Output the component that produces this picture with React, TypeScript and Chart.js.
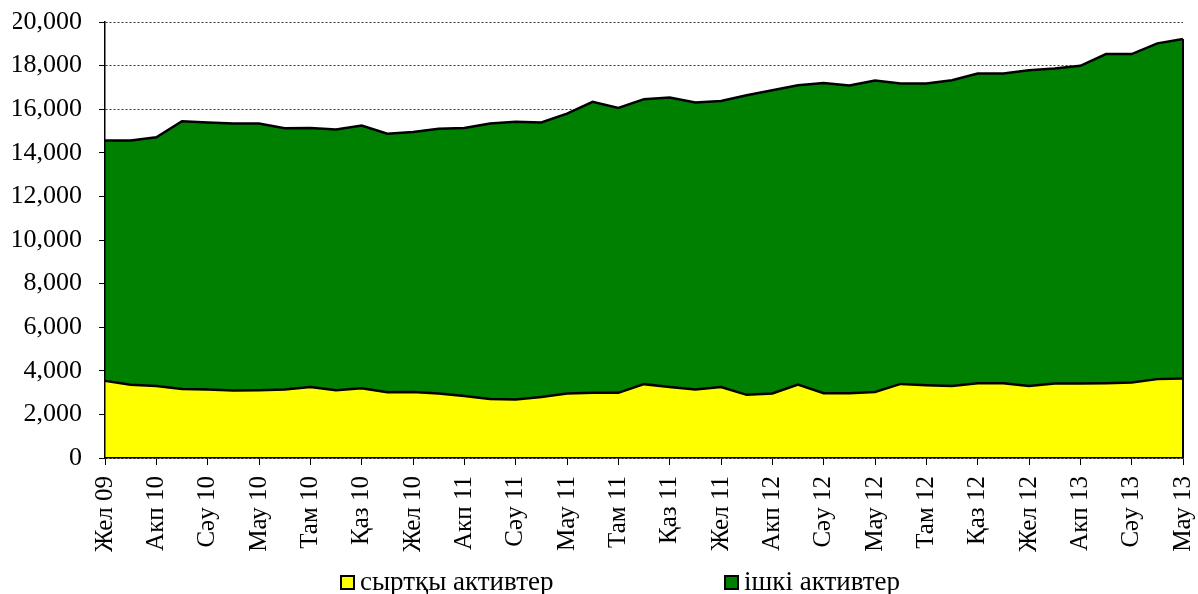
import React, { useEffect, useRef } from "react";
import { Chart, registerables } from "chart.js";

Chart.register(...registerables);

const months: string[] = [
  "Жел 09", "Қаң 10", "Акп 10", "Нау 10", "Сәу 10", "Мам 10", "Мау 10", "Шіл 10", "Там 10", "Қыр 10", "Қаз 10", "Қар 10",
  "Жел 10", "Қаң 11", "Акп 11", "Нау 11", "Сәу 11", "Мам 11", "Мау 11", "Шіл 11", "Там 11", "Қыр 11", "Қаз 11", "Қар 11",
  "Жел 11", "Қаң 12", "Акп 12", "Нау 12", "Сәу 12", "Мам 12", "Мау 12", "Шіл 12", "Там 12", "Қыр 12", "Қаз 12", "Қар 12",
  "Жел 12", "Қаң 13", "Акп 13", "Нау 13", "Сәу 13", "Мам 13", "Мау 13",
];

const externalAssets: number[] = [
  3540, 3360, 3300, 3170, 3140, 3100, 3110, 3140, 3260, 3110, 3200, 3020,
  3030, 2960, 2850, 2710, 2680, 2800, 2960, 2990, 2990, 3390, 3260, 3140,
  3260, 2900, 2960, 3370, 2970, 2970, 3030, 3400, 3340, 3300, 3430, 3430,
  3300, 3420, 3420, 3430, 3460, 3620, 3650,
];

const internalAssets: number[] = [
  11020, 11200, 11410, 12280, 12250, 12240, 12230, 11990, 11880, 11960, 12050, 11860,
  11930, 12140, 12290, 12630, 12740, 12590, 12840, 13350, 13070, 13070, 13280, 13170,
  13120, 13740, 13910, 13730, 14230, 14120, 14290, 13780, 13840, 14030, 14210, 14210,
  14490, 14450, 14570, 15100, 15070, 15400, 15570,
];

const seriesNames: string[] = ["сыртқы активтер", "ішкі активтер"];
const seriesColors: string[] = ["#FFFF00", "#008000"];

const FONT = "'Liberation Serif', 'Times New Roman', serif";

const rightEdgePlugin = {
  id: "rightEdge",
  afterDatasetsDraw(chart: any) {
    const meta = chart.getDatasetMeta(1);
    if (!meta || !meta.data.length) return;
    const last = meta.data[meta.data.length - 1];
    const y0 = chart.scales.y.getPixelForValue(0);
    const ctx = chart.ctx;
    ctx.save();
    ctx.strokeStyle = "#000";
    ctx.lineWidth = 2;
    ctx.beginPath();
    ctx.moveTo(last.x, last.y);
    ctx.lineTo(last.x, y0);
    ctx.stroke();
    ctx.restore();
  },
};

export default function App() {
  const ref = useRef<HTMLCanvasElement | null>(null);

  useEffect(() => {
    if (!ref.current) return;
    const chart = new Chart(ref.current, {
      type: "line",
      data: {
        labels: months,
        datasets: [
          {
            label: seriesNames[0],
            data: externalAssets,
            backgroundColor: seriesColors[0],
            borderColor: "#000",
            borderWidth: 2.5,
            fill: "origin",
            pointRadius: 0,
            tension: 0,
          },
          {
            label: seriesNames[1],
            data: internalAssets,
            backgroundColor: seriesColors[1],
            borderColor: "#000",
            borderWidth: 2.5,
            fill: "-1",
            pointRadius: 0,
            tension: 0,
          },
        ],
      },
      options: {
        animation: false,
        responsive: true,
        maintainAspectRatio: false,
        layout: { padding: { left: 13, right: 15, top: 22, bottom: 31 } },
        plugins: {
          legend: { display: false },
          tooltip: { enabled: false },
        },
        scales: {
          x: {
            type: "category",
            offset: false,
            afterFit: (scale: any) => {
              scale.paddingLeft = 0;
              scale.paddingRight = 0;
            },
            grid: {
              drawOnChartArea: false,
              drawTicks: true,
              tickLength: 7,
              tickWidth: 1,
              tickColor: (ctx: any) => (ctx.index % 2 === 0 ? "#000" : "rgba(0,0,0,0)"),
            },
            border: { display: true, color: "#000", width: 1.5, z: 1 },
            ticks: {
              autoSkip: false,
              maxRotation: 90,
              minRotation: 90,
              padding: 11,
              color: "#000",
              font: { family: FONT, size: 25 },
              callback: (_v: any, i: number) => (i % 2 === 0 ? months[i] : ""),
            },
          },
          y: {
            stacked: true,
            min: 0,
            max: 20000,
            afterFit: (scale: any) => {
              scale.width = 92;
              scale.paddingTop = 0;
              scale.paddingBottom = 0;
            },
            grid: {
              color: "#333",
              lineWidth: 1,
              drawTicks: true,
              tickLength: 6,
              tickColor: "#000",
              tickWidth: 1,
            },
            border: { display: true, color: "#000", width: 1.5, dash: [2, 2], z: 1 },
            ticks: {
              stepSize: 2000,
              padding: 17,
              color: "#000",
              font: { family: FONT, size: 26 },
              callback: (v: any) => Number(v).toLocaleString("en-US"),
            },
          },
        },
      },
      plugins: [rightEdgePlugin],
    });
    return () => chart.destroy();
  }, []);

  const legendItem = (i: number, left: number) => (
    <div
      key={i}
      style={{
        position: "absolute",
        left,
        top: 566,
        display: "flex",
        alignItems: "center",
        fontFamily: FONT,
        fontSize: 27,
        color: "#000",
        whiteSpace: "nowrap",
        lineHeight: "30px",
      }}
    >
      <span
        style={{
          display: "inline-block",
          width: 11,
          height: 11,
          background: seriesColors[i],
          border: "2px solid #000",
          marginRight: 5,
          marginTop: 3,
        }}
      />
      <span>{seriesNames[i]}</span>
    </div>
  );

  return (
    <div style={{ position: "absolute", left: 0, top: 0, width: 1198, height: 594, background: "#fff" }}>
      <div style={{ position: "absolute", left: 0, top: 0, width: 1198, height: 594 }}>
        <canvas ref={ref} />
      </div>
      {legendItem(0, 340)}
      {legendItem(1, 724)}
    </div>
  );
}
